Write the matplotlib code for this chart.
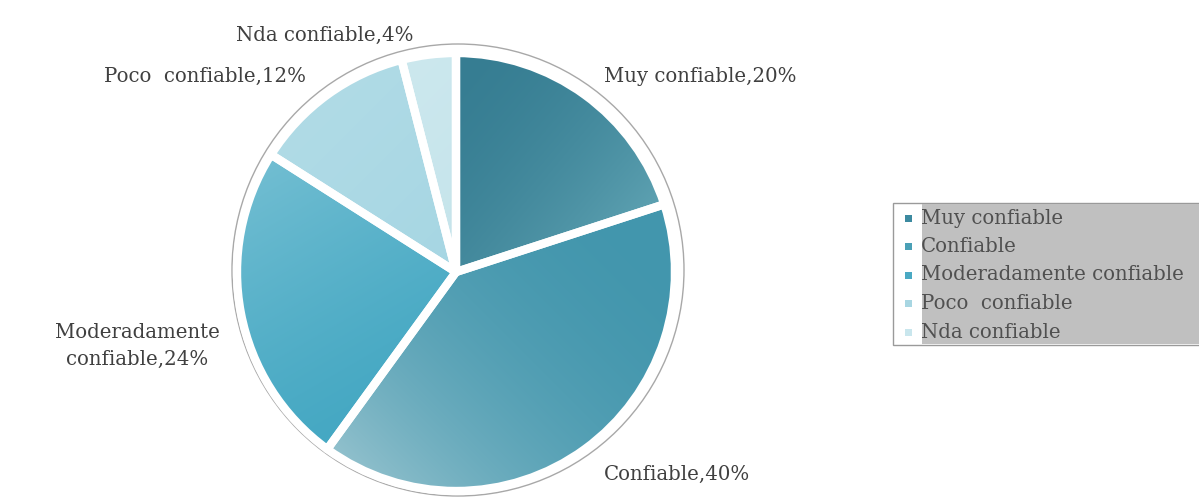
import numpy as np
import matplotlib
matplotlib.use("Agg")
import matplotlib.pyplot as plt
from matplotlib.patches import Rectangle, Circle
from matplotlib.colors import to_rgb

# ------------------------------------------------------------
# DATA
# ------------------------------------------------------------

categories = ["Muy confiable", "Confiable", "Moderadamente confiable",
              "Poco  confiable", "Nda confiable"]
shares = [20, 40, 24, 12, 4]
slice_labels = ["Muy confiable,20%", "Confiable,40%",
                "Moderadamente\nconfiable,24%", "Poco  confiable,12%",
                "Nda confiable,4%"]

# gradient (start colour, end colour, direction in degrees, curve) per slice
gradients = [
    ("#367d92", "#5ea2b2", -40, 1.8),
    ("#4296ad", "#92c1cd", 225, 2.4),
    ("#45a8c3", "#72bed2", 120, 1.3),
    ("#a6d6e3", "#b0dbe6", 135, 1.0),
    ("#c5e4eb", "#cce8ee", 135, 1.0),
]
legend_colors = ["#3c8aa0", "#4aa0b6", "#4aa9c3", "#a8d6e2", "#c9e6ed"]

# ------------------------------------------------------------
# FIGURE
# ------------------------------------------------------------

W, H = 1199, 504
fig = plt.figure(figsize=(W / 100, H / 100), dpi=100)
ax = fig.add_axes([0, 0, 1, 1])

FONT = "DejaVu Serif"
TXT = "#404040"
FS = 14.2

cx, cy, R = 456, H - 272, 219

wedges, _ = ax.pie(
    shares,
    startangle=90,
    counterclock=False,
    center=(cx, cy),
    radius=R,
    wedgeprops=dict(facecolor="none", edgecolor="white", linewidth=6,
                    joinstyle="round", zorder=3),
)

# linear gradient fill clipped to each wedge
n = 400
xs = np.linspace(cx - R, cx + R, n)
ys = np.linspace(cy - R, cy + R, n)
gx, gy = np.meshgrid(xs, ys)
pts = np.column_stack([gx.ravel(), gy.ravel()])
for w, (c0, c1, ang, k) in zip(wedges, gradients):
    d = np.deg2rad(ang)
    p = (gx - cx) * np.cos(d) + (gy - cy) * np.sin(d)
    inside = w.get_path().contains_points(pts).reshape(gx.shape)
    lo, hi = p[inside].min(), p[inside].max()
    t = np.clip((p - lo) / (hi - lo), 0, 1) ** k
    t = t[..., None]
    rgb = np.array(to_rgb(c0)) * (1 - t) + np.array(to_rgb(c1)) * t
    im = ax.imshow(rgb, extent=(cx - R, cx + R, cy - R, cy + R),
                   origin="lower", interpolation="bilinear", zorder=2)
    im.set_clip_path(w)

# thin outer ring
ax.add_patch(Circle((458, H - 270), 226, facecolor="none",
                    edgecolor="#a8a8a8", linewidth=1, zorder=1))

# slice labels
label_pos = [(604, 76, "left"), (604, 474, "left"), (137, 346, "center"),
             (104, 76, "left"), (236, 35, "left")]
for text, (x, y, ha) in zip(slice_labels, label_pos):
    ax.text(x, H - y, text, ha=ha, va="center", fontsize=FS,
            family=FONT, color=TXT, linespacing=1.55)

# legend box
ax.add_patch(Rectangle((893, H - 345), 320, 142, facecolor="white",
                       edgecolor="#9a9a9a", linewidth=1, zorder=4))
ax.add_patch(Rectangle((922, H - 344), 290, 140, facecolor="#c0c0c0",
                       edgecolor="none", zorder=5))
for i, (name, col) in enumerate(zip(categories, legend_colors)):
    y = H - (218 + i * 28.5)
    ax.add_patch(Rectangle((905, y - 3.5), 7, 7, facecolor=col,
                           edgecolor="none", zorder=6))
    ax.text(921, y, name, ha="left", va="center", fontsize=FS,
            family=FONT, color="#505050", zorder=6)

ax.set_xlim(0, W)
ax.set_ylim(0, H)
ax.set_aspect("equal")
ax.axis("off")

fig.savefig("out.png", dpi=100)
plt.close(fig)
